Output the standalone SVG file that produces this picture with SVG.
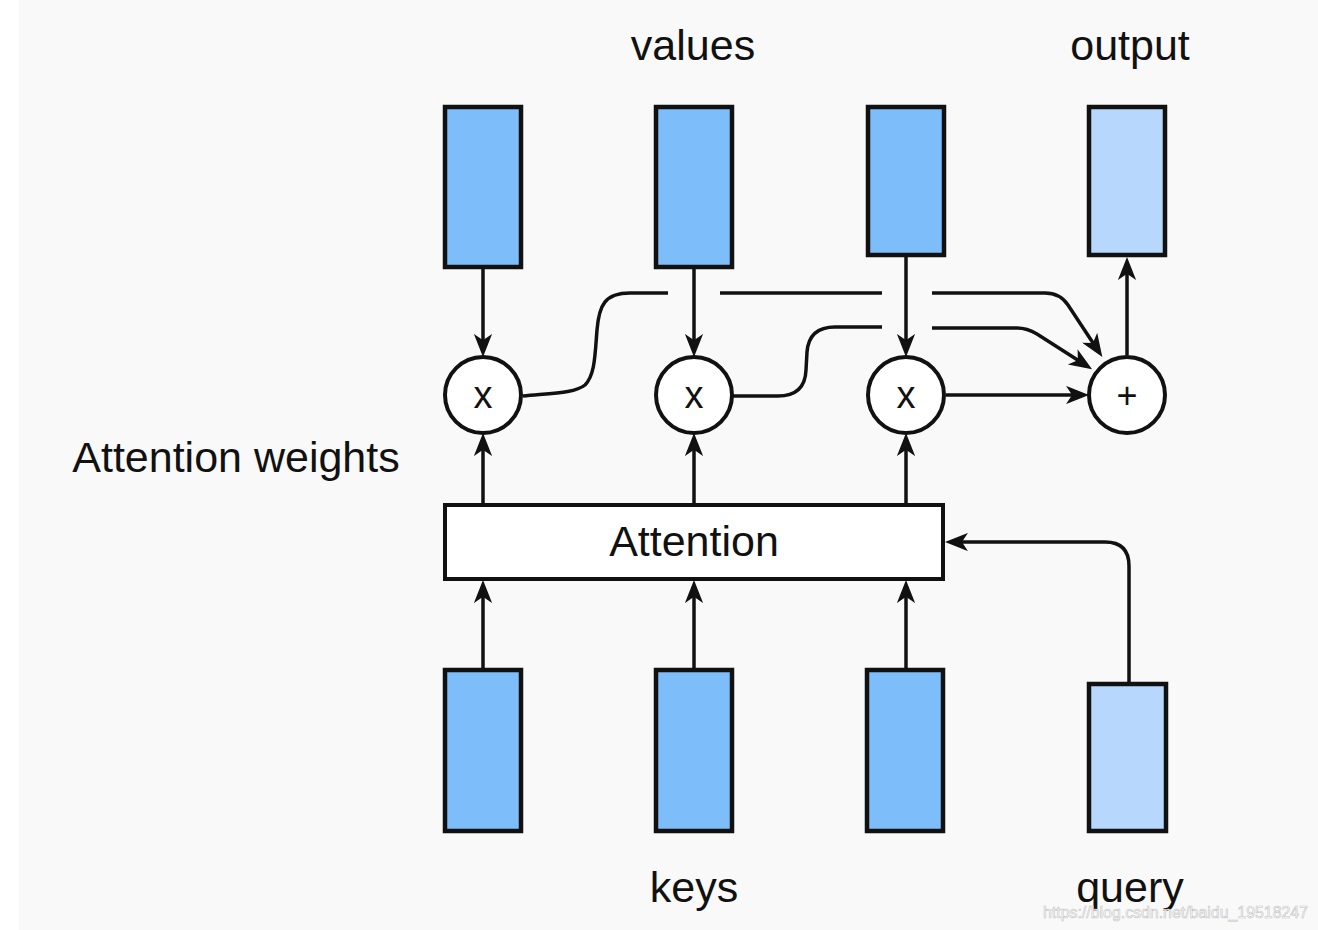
<svg xmlns="http://www.w3.org/2000/svg" width="1318" height="930" viewBox="0 0 1318 930">
<style>
.t{font-family:"Liberation Sans",Arial,sans-serif;fill:#111;}
.lbl{font-size:43px;text-anchor:middle;}
.dk{fill:#7cbdfa;stroke:#111;stroke-width:4.5;}
.lt{fill:#b7d8fc;stroke:#111;stroke-width:4.5;}
.op{fill:#fff;stroke:#111;stroke-width:4;}
.c{fill:none;stroke:#111;stroke-width:3.5;}
.a{marker-end:url(#arr);}
</style>
<defs>
<marker id="arr" markerUnits="userSpaceOnUse" viewBox="-18 -9 24 18" refX="0" refY="0" markerWidth="24" markerHeight="18" orient="auto">
<path d="M-15,-7.5 L4,0 L-15,7.5 L-10,0 Z" fill="#111" stroke="#111" stroke-width="1.5" stroke-linejoin="miter"/>
</marker>
</defs>
<rect x="0" y="0" width="1318" height="930" fill="#ffffff"/>
<rect x="19" y="0" width="1299" height="930" fill="#f9f9f9"/>

<g id="connectors">
<path class="c a" d="M483,269 L483,351"/>
<path class="c a" d="M694,269 L694,351"/>
<path class="c a" d="M906,257 L906,351"/>
<path class="c a" d="M483,503 L483,439"/>
<path class="c a" d="M694,503 L694,439"/>
<path class="c a" d="M906,503 L906,439"/>
<path class="c a" d="M483,668 L483,586"/>
<path class="c a" d="M694,668 L694,586"/>
<path class="c a" d="M906,668 L906,586"/>
<path class="c a" d="M1129,682 L1129,566 Q1129,542 1105,542 L951,542"/>
<path class="c a" d="M946,395 L1083,395"/>
<path class="c a" d="M1127,355 L1127,263"/>
<path class="c" d="M523,396 C555,393 575,393 585,385 C595,375 595,355 597,330 C599,305 605,293 630,293 L668,293"/>
<path class="c" d="M720,293 L882,293"/>
<path class="c a" d="M932,293 L1045,293 Q1060,293 1068,305 L1099,352"/>
<path class="c" d="M733,396 L778,396 Q805,396 806,370 L807,352 Q809,327 835,327 L882,327"/>
<path class="c a" d="M932,328 L1017,328 Q1027,328 1037,334 L1087,366"/>
</g>

<g id="value1"><rect class="dk" x="445" y="107" width="76" height="160"/></g>
<g id="value2"><rect class="dk" x="656" y="107" width="76" height="160"/></g>
<g id="value3"><rect class="dk" x="868" y="107" width="76" height="148"/></g>
<g id="output"><rect class="lt" x="1089" y="107" width="76" height="148"/></g>

<g id="mul1"><circle class="op" cx="483" cy="395" r="38"/><text class="t" x="483" y="408" font-size="38" text-anchor="middle">x</text></g>
<g id="mul2"><circle class="op" cx="694" cy="395" r="38"/><text class="t" x="694" y="408" font-size="38" text-anchor="middle">x</text></g>
<g id="mul3"><circle class="op" cx="906" cy="395" r="38"/><text class="t" x="906" y="408" font-size="38" text-anchor="middle">x</text></g>
<g id="sum"><circle class="op" cx="1127" cy="395" r="38"/><text class="t" x="1127" y="408" font-size="36" text-anchor="middle">+</text></g>

<g id="attention"><rect class="op" x="445" y="505" width="498" height="74"/><text class="t lbl" x="694" y="556">Attention</text></g>

<g id="key1"><rect class="dk" x="445" y="670" width="76" height="161"/></g>
<g id="key2"><rect class="dk" x="656" y="670" width="76" height="161"/></g>
<g id="key3"><rect class="dk" x="867" y="670" width="76" height="161"/></g>
<g id="query"><rect class="lt" x="1089" y="684" width="77" height="147"/></g>

<text class="t lbl" x="693" y="60">values</text>
<text class="t lbl" x="1130" y="60">output</text>
<text class="t lbl" x="236" y="472">Attention weights</text>
<text class="t lbl" x="694" y="902">keys</text>
<text class="t lbl" x="1130" y="902">query</text>
<text x="1043" y="918" font-family="Liberation Sans Narrow,Liberation Sans,sans-serif" font-size="16" fill="#ffffff" stroke="#c4c4c4" stroke-width="0.6" textLength="265" lengthAdjust="spacingAndGlyphs">https://blog.csdn.net/baidu_19518247</text>
</svg>
